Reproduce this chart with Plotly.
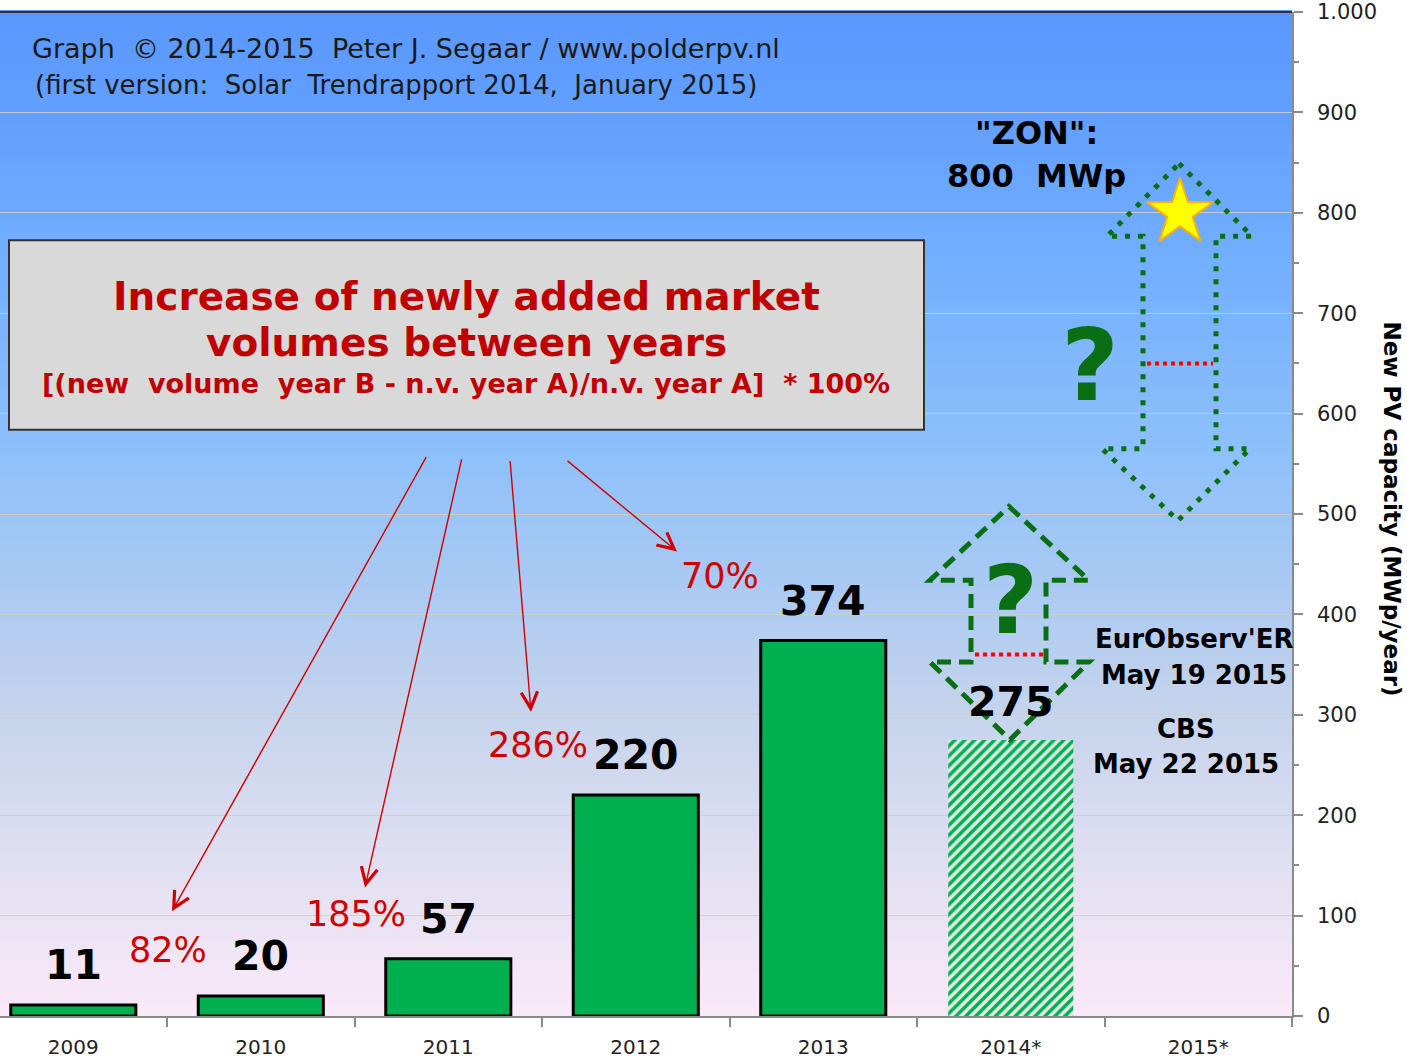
import plotly.graph_objects as go

# ---------------- data ----------------
years = ["2009", "2010", "2011", "2012", "2013", "2014*", "2015*"]
new_capacity_mwp = [11, 20, 57, 220, 374]          # final figures 2009-2013
estimate_2014_mwp = [275]                           # CBS May 22 2015 (hatched)
growth_pct = [82, 185, 286, 70]                     # increase between years
zon_target_mwp = 800                                # "ZON": 800 MWp
eurobserver_mwp = 360                               # EurObserv'ER May 19 2015
zon_mid_mwp = 650
y_ticks = [0, 100, 200, 300, 400, 500, 600, 700, 800, 900, 1000]

# ---------------- layout geometry helpers (decoration only) ----------------
W, H = 1407, 1059
M_L, M_R, M_T, M_B = 0, 115, 10, 42
PW, PH = W - M_L - M_R, H - M_T - M_B
X_MIN, X_MAX = -0.391, 6.5
Y_MIN, Y_MAX = 0, 1000


def dx(px):
    return X_MIN + (px - M_L) / PW * (X_MAX - X_MIN)


def dy(py):
    return Y_MIN + (M_T + PH - py) / PH * (Y_MAX - Y_MIN)


def px_(px):
    return (px - M_L) / PW


def py_(py):
    return (M_T + PH - py) / PH


FONT = "DejaVu Sans"
GREEN = "#00B050"
DKGREEN = "#0A6E14"
RED = "#D00000"

fig = go.Figure()

fig.add_trace(go.Bar(
    x=list(range(len(new_capacity_mwp))), y=new_capacity_mwp, width=0.667,
    marker=dict(color=GREEN, line=dict(color="black", width=3)),
    showlegend=False, hoverinfo="skip"))

fig.add_trace(go.Bar(
    x=[5], y=estimate_2014_mwp, width=0.667,
    marker=dict(color="rgba(225,238,228,0.85)", line=dict(width=0),
                pattern=dict(shape="/", fgcolor=GREEN, bgcolor="rgba(225,238,228,0.85)",
                             size=7, solidity=0.5, fillmode="replace")),
    showlegend=False, hoverinfo="skip"))

fig.add_trace(go.Scatter(
    x=[dx(1180)], y=[zon_target_mwp], mode="markers",
    marker=dict(symbol="star", size=50, color="#FFFF00",
                line=dict(color="#FFB000", width=2)),
    showlegend=False, hoverinfo="skip", cliponaxis=False))

# ---------------- background gradient ----------------
stops = [(0.0, (251, 233, 248)), (0.12, (230, 226, 243)), (0.31, (196, 211, 236)),
         (0.56, (142, 192, 250)), (0.75, (115, 175, 255)), (0.91, (96, 158, 255)),
         (1.0, (90, 152, 255))]


def grad(t):
    for (t0, c0), (t1, c1) in zip(stops[:-1], stops[1:]):
        if t0 <= t <= t1:
            f = (t - t0) / (t1 - t0)
            return "rgb(%d,%d,%d)" % tuple(round(a + (b - a) * f) for a, b in zip(c0, c1))
    return "rgb(%d,%d,%d)" % stops[-1][1]


shapes = []
N = 160
for i in range(N):
    t = (i + 0.5) / N
    shapes.append(dict(type="rect", xref="paper", yref="paper", x0=0, x1=1,
                       y0=i / N, y1=(i + 1) / N + 0.002, fillcolor=grad(t),
                       line=dict(width=0), layer="below"))

# top border
shapes.append(dict(type="line", xref="paper", yref="paper", x0=0, x1=1, y0=1, y1=1,
                   line=dict(color="#333333", width=2), layer="above"))

# title box
shapes.append(dict(type="rect", xref="paper", yref="paper",
                   x0=px_(9), x1=px_(924), y0=py_(429), y1=py_(239),
                   fillcolor="#D9D9D9", line=dict(color="#333333", width=2), layer="above"))


def poly(pts):
    s = "M " + " L ".join("%f,%f" % (dx(a), dy(b)) for a, b in pts) + " Z"
    return s


# dashed up/down arrow around 2014*
low_arrow = [(1009, 506), (1089, 580), (1046, 580), (1046, 662), (1089, 662), (1010, 740),
             (930, 662), (971, 662), (971, 580), (930, 580)]
shapes.append(dict(type="path", xref="x", yref="y", path=poly(low_arrow),
                   line=dict(color=DKGREEN, width=5, dash="14px,8px"), layer="above"))
shapes.append(dict(type="line", xref="x", yref="y", x0=dx(975), x1=dx(1044),
                   y0=eurobserver_mwp, y1=eurobserver_mwp,
                   line=dict(color="#FF0000", width=4, dash="4px,4px"), layer="above"))

# dotted up/down arrow for 2015*
up_arrow = [(1179, 162), (1252, 235), (1216, 235), (1216, 448), (1250, 448), (1178, 520),
            (1102, 448), (1143, 448), (1143, 235), (1107, 235)]
shapes.append(dict(type="path", xref="x", yref="y", path=poly(up_arrow),
                   line=dict(color=DKGREEN, width=5, dash="5px,8px"), layer="above"))
shapes.append(dict(type="line", xref="x", yref="y", x0=dx(1147), x1=dx(1213),
                   y0=zon_mid_mwp, y1=zon_mid_mwp,
                   line=dict(color="#FF0000", width=4, dash="4px,4px"), layer="above"))

# ---------------- annotations ----------------
ann = []


def text(x, y, t, size, color="black", bold=False, xanchor="center", xref="paper", yref="paper",
         angle=0, family=FONT, yshift=0):
    ann.append(dict(x=x, y=y, xref=xref, yref=yref, text=t, showarrow=False,
                    xanchor=xanchor, yanchor="middle", textangle=angle, yshift=yshift,
                    font=dict(family=family, size=size, color=color,
                              weight="bold" if bold else "normal")))


NB = "\u00a0"
text(px_(30), py_(47), "Graph" + NB + " © 2014-2015" + NB + " Peter J. Segaar / www.polderpv.nl",
     27, "#1a1a1a", xanchor="left")
text(px_(33), py_(83), "(first version:" + NB + " Solar" + NB + " Trendrapport 2014," + NB +
     " January 2015)", 26, "#1a1a1a", xanchor="left")

text(px_(1036), py_(131), '"ZON":', 32, bold=True)
text(px_(1036), py_(174), "800" + NB + " MWp", 32, bold=True)

text(px_(466), py_(295), "Increase of newly added market", 39, "#C00000", bold=True)
text(px_(466), py_(341), "volumes between years", 39, "#C00000", bold=True)
text(px_(466), py_(383), "[(new" + NB + " volume" + NB + " year B - n.v. year A)/n.v. year A]" +
     NB + " *" + NB + "100%", 27, "#C00000", bold=True)

# value labels
for i, v in enumerate(new_capacity_mwp):
    text(i, v, str(v), 41, bold=True, xref="x", yref="y", yshift=40)
text(5, estimate_2014_mwp[0], str(estimate_2014_mwp[0]), 41, bold=True, xref="x", yref="y", yshift=38)

# growth labels
pct_px = [(168, 951), (356, 915), (538, 745), (720, 576)]
for g, (a, b) in zip(growth_pct, pct_px):
    text(dx(a), dy(b), "%d%%" % g, 35, RED, xref="x", yref="y")

# red arrows from title box
tails = [(427, 455), (462, 457), (510, 459), (566, 459)]
heads = [(172, 912), (365, 888), (531, 712), (677, 551)]
for (tx, ty), (hx, hy) in zip(tails, heads):
    ann.append(dict(x=dx(hx), y=dy(hy), ax=dx(tx), ay=dy(ty), xref="x", yref="y",
                    axref="x", ayref="y", text="", showarrow=True, arrowhead=5,
                    arrowsize=2.3, arrowwidth=1.4, arrowcolor=RED, standoff=0))

# question marks
text(px_(1090), py_(365), "?", 100, DKGREEN, bold=True)
text(px_(1010), py_(600), "?", 95, DKGREEN, bold=True)

# sources
text(px_(1194), py_(639), "EurObserv'ER", 26, bold=True)
text(px_(1194), py_(675), "May 19 2015", 26, bold=True)
text(px_(1186), py_(729), "CBS", 26, bold=True)
text(px_(1186), py_(764), "May 22 2015", 26, bold=True)

# right axis title
text(px_(1392), py_(508), "New PV capacity (MWp/year)", 23, bold=True, angle=90)

fig.update_layout(
    width=W, height=H, autosize=False,
    margin=dict(l=M_L, r=M_R, t=M_T, b=M_B, pad=0),
    paper_bgcolor="white", plot_bgcolor="rgba(0,0,0,0)",
    barmode="overlay", separators=",.",
    shapes=shapes, annotations=ann,
    font=dict(family=FONT, color="#222222"),
    xaxis=dict(range=[X_MIN, X_MAX], tickmode="array", tickvals=list(range(len(years))),
               ticktext=years, ticks="", showgrid=False, zeroline=False,
               showline=True, linecolor="#8a8a8a", linewidth=1.5,
               tickfont=dict(family=FONT, size=20, color="#222222"), ticklabelstandoff=12,
               minor=dict(tickmode="array", tickvals=[i + 0.5 for i in range(len(years))],
                          ticks="outside", ticklen=9, tickcolor="#8a8a8a", tickwidth=1.5,
                          showgrid=False),
               fixedrange=True),
    yaxis=dict(range=[Y_MIN, Y_MAX], side="right", tickmode="array", tickvals=y_ticks,
               tickformat=",d", showgrid=True, gridcolor="rgba(205,205,205,0.9)", gridwidth=1,
               zeroline=False, showline=True, linecolor="#8a8a8a", linewidth=1.5,
               ticks="outside", ticklen=9, tickcolor="#8a8a8a", tickwidth=1.5,
               minor=dict(dtick=50, ticks="outside", ticklen=5, tickcolor="#8a8a8a",
                          showgrid=False),
               tickfont=dict(family=FONT, size=21, color="#222222"), ticklabelstandoff=10,
               ticklabeloverflow="allow", fixedrange=True),
    showlegend=False,
)

fig.write_html("out.html", config={"displayModeBar": False},
               post_script="document.body.style.margin='0';document.body.style.overflow='hidden';")
